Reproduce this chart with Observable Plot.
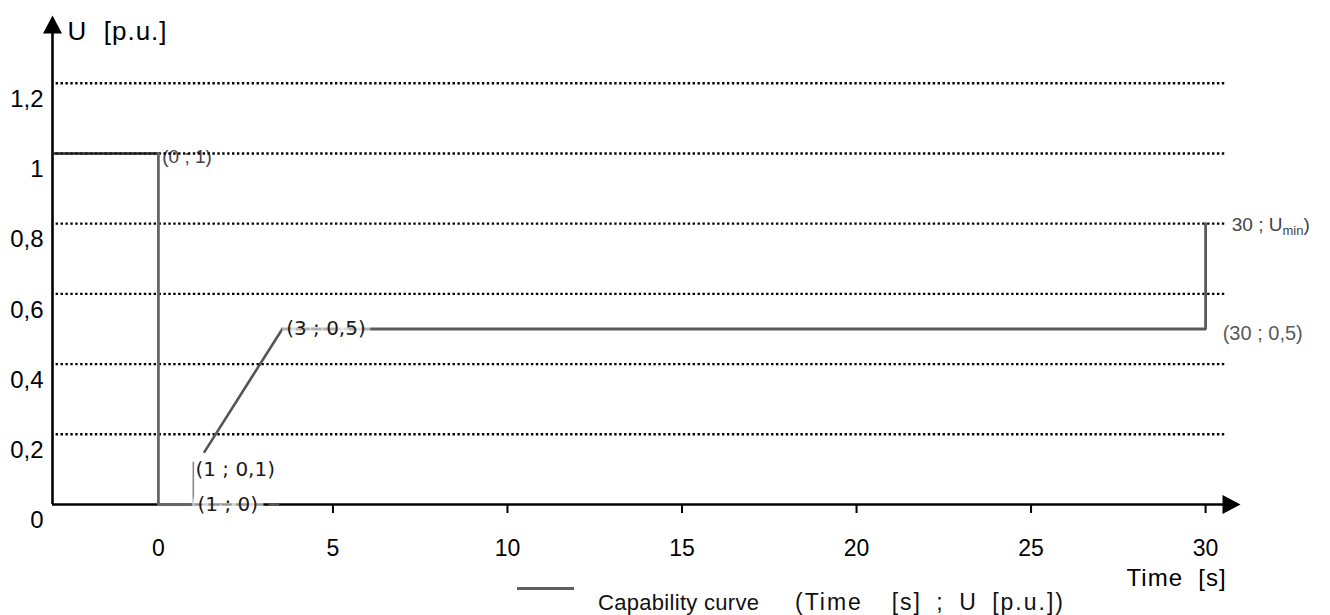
<!DOCTYPE html>
<html>
<head>
<meta charset="utf-8">
<script src="https://cdn.jsdelivr.net/npm/d3@7"></script>
<script src="https://cdn.jsdelivr.net/npm/@observablehq/plot@0.6"></script>
<style>
  html, body { margin: 0; padding: 0; background: white; }
  #wrap { position: relative; width: 1330px; height: 615px; overflow: hidden; }
  #legend { position: absolute; left: 517px; top: 578px; font-family: "Liberation Sans", Arial, sans-serif; font-size: 22px; color: #111; white-space: pre; }
  #legend .sw { position: absolute; left: 0; top: 9px; width: 57px; height: 3px; background: #5f5f5f; }
  #legend .t1 { position: absolute; left: 81px; top: 12px; letter-spacing: 0.3px; }
  #legend .t2 { position: absolute; left: 278px; top: 11px; font-size: 23px; letter-spacing: 2px; word-spacing: 6px; }
</style>
</head>
<body>
<div id="wrap"></div>
<script>
// ---- data ----
const xTicks = [0, 5, 10, 15, 20, 25, 30];
const yTickVals = [0, 0.2, 0.4, 0.6, 0.8, 1, 1.2];
const yTickLabels = ["0", "0,2", "0,4", "0,6", "0,8", "1", "1,2"];
const gridVals = [0.2, 0.4, 0.6, 0.8, 1, 1.2];

// capability curve pieces (Time [s], U [p.u.])
const segLeftT = [-3.03, 0];      const segLeftU = [1, 1];
const segDropT = [0, 0, 1];       const segDropU = [1, 0, 0];
const segStepT = [1, 1];          const segStepU = [0, 0.12];
const segRampT = [1.32, 3.55];    const segRampU = [0.15, 0.5];
const segHoldT = [3.55, 30, 30];  const segHoldU = [0.5, 0.5, 0.8];
const segTailT = [3.2, 3.42];     const segTailU = [0, 0];

const labelTexts = ["(0 ; 1)", "(1 ; 0,1)", "(1 ; 0)", "(3 ; 0,5)", "(30 ; 0,5)", "30 ; Umin)"];
const labelT = [0.11, 1.06, 1.12, 3.66, 30.49, 30.75];
const labelU = [1, 0.1, 0, 0.5, 0.5, 0.8];

const xMin = -3.034, xMax = 31.0, yMax = 1.393;

const pts = (ts, us) => ts.map((t, i) => ({t, u: us[i]}));
const lab = i => [{t: labelT[i], u: labelU[i], text: labelTexts[i]}];

const arrowHead = {
  draw(ctx) { ctx.moveTo(0, 0); ctx.lineTo(9.5, 18); ctx.lineTo(-9.5, 18); ctx.closePath(); }
};

const chart = Plot.plot({
  width: 1330, height: 615,
  marginLeft: 52, marginRight: 90, marginTop: 15, marginBottom: 111,
  x: {domain: [xMin, xMax], axis: null},
  y: {domain: [0, yMax], axis: null},
  style: {fontFamily: "Liberation Sans, Arial, sans-serif", background: "white", overflow: "visible"},
  marks: [
    // (0 ; 1) label under the dotted grid
    Plot.text(lab(0), {x: "t", y: "u", text: "text", textAnchor: "start", dy: 3, fontSize: 19, fill: "#444"}),
    // dotted gridlines
    Plot.ruleY(gridVals, {x1: -2.93, x2: 30.6, stroke: "black", strokeWidth: 2.4, strokeDasharray: "2.4,2.5"}),
    // axes
    Plot.ruleY([0], {x1: xMin, x2: 30.8, stroke: "black", strokeWidth: 2.6}),
    Plot.ruleX([xMin], {y1: 0, y2: 1.35, stroke: "black", strokeWidth: 2.6}),
    Plot.ruleX(xTicks.slice(1), {x: d => d, y1: 0, y2: -9 / 351, stroke: "black", strokeWidth: 2}),
    Plot.dot([{t: xMin, u: yMax}], {x: "t", y: "u", symbol: arrowHead, fill: "black", stroke: "none"}),
    Plot.dot([{t: xMax, u: 0}], {x: "t", y: "u", symbol: arrowHead, fill: "black", stroke: "none", rotate: 90}),
    // curve
    Plot.line(pts(segLeftT, segLeftU), {x: "t", y: "u", stroke: "#222", strokeWidth: 2.6}),
    Plot.line(pts(segDropT, segDropU), {x: "t", y: "u", stroke: "#666", strokeWidth: 2.8}),
    Plot.line(pts(segStepT, segStepU), {x: "t", y: "u", stroke: "#8a8a8a", strokeWidth: 1.6}),
    Plot.line(pts(segRampT, segRampU), {x: "t", y: "u", stroke: "#555", strokeWidth: 2.6}),
    Plot.line(pts(segHoldT, segHoldU), {x: "t", y: "u", stroke: "#5a5a5a", strokeWidth: 2.8, strokeLinejoin: "miter"}),
    // point labels
    Plot.text(lab(1), {x: "t", y: "u", text: "text", textAnchor: "start", fontFamily: "DejaVu Sans", fontSize: 20, fill: "#1a1a1a"}),
    Plot.text(lab(2), {x: "t", y: "u", text: "text", textAnchor: "start", fontFamily: "DejaVu Sans", fontSize: 20, fill: "#1a1a1a", stroke: "white", strokeOpacity: 0.6, strokeWidth: 14}),
    Plot.line(pts(segTailT, segTailU), {x: "t", y: "u", stroke: "#555", strokeWidth: 3}),
    Plot.text(lab(3), {x: "t", y: "u", text: "text", textAnchor: "start", fontFamily: "DejaVu Sans", fontSize: 20, fill: "#1a1a1a", stroke: "white", strokeOpacity: 0.55, strokeWidth: 12}),
    Plot.text(lab(4), {x: "t", y: "u", text: "text", textAnchor: "start", dy: 5, fontSize: 20, fill: "#5a5a5a"}),
    Plot.text(lab(5), {x: "t", y: "u", text: "text", textAnchor: "start", dy: 1, fontSize: 19, fill: "#444", className: "umin"}),
    // tick labels
    Plot.text(xTicks, {x: d => d, y: 0, dy: 44, text: d => String(d), fontSize: 23, fill: "black"}),
    Plot.text(yTickVals, {x: xMin, y: d => d, dx: -9, dy: 16, text: (d, i) => yTickLabels[i], textAnchor: "end", fontSize: 24, fill: "black"}),
    // axis titles
    Plot.text([{t: xMin, u: yMax}], {x: "t", y: "u", dx: 15, dy: 16, text: () => "U  [p.u.]", textAnchor: "start", fontSize: 26, fill: "black", className: "ytitle"}),
    Plot.text([{t: 29.17, u: 0}], {x: "t", y: "u", dy: 74, text: () => "Time  [s]", fontSize: 24, fill: "black", className: "xtitle"})
  ]
});

// subscript "min"
d3.select(chart).selectAll("text").each(function() {
  const el = d3.select(this);
  if (el.text() === "30 ; Umin)") {
    el.text(null);
    el.append("tspan").text("30 ; U");
    el.append("tspan").attr("font-size", 13).attr("dy", 4).text("min");
    el.append("tspan").attr("dy", -4).text(")");
  }
});
d3.select(chart).selectAll(".ytitle text, .xtitle text").style("letter-spacing", "1px");
d3.select(chart).selectAll("text").style("white-space", "pre");

const wrap = document.getElementById("wrap");
wrap.appendChild(chart);
const leg = document.createElement("div");
leg.id = "legend";
leg.innerHTML = '<span class="sw"></span><span class="t1">Capability curve</span><span class="t2">(Time  [s] ; U [p.u.])</span>';
wrap.appendChild(leg);
</script>
</body>
</html>
